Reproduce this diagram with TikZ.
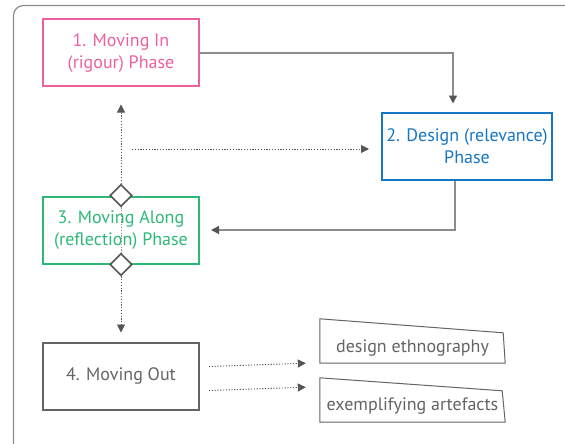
\documentclass[tikz,border=0pt]{standalone}
\usepackage{fontspec}
\setmainfont{PT Sans}
\usepackage{xcolor}
\usetikzlibrary{arrows.meta,positioning,shapes.geometric}
\definecolor{rigourpink}{RGB}{236,96,160}
\definecolor{relevblue}{RGB}{22,118,196}
\definecolor{reflgreen}{RGB}{46,184,120}
\definecolor{outgray}{RGB}{100,100,100}
\definecolor{linkgray}{RGB}{140,140,140}
\definecolor{tipgray}{RGB}{85,85,85}
\newcommand{\phasefont}{\fontsize{18}{22}\selectfont}
\begin{document}
\begin{tikzpicture}[x=1pt,y=-1pt,
        phase/.style={rectangle,draw,line width=2pt,minimum width=156pt,minimum height=67pt,
          inner sep=1pt,align=center,font=\phasefont},
        outbox/.style={rectangle,minimum width=185pt,inner sep=0pt,text=outgray,font=\phasefont},
        outline/.style={draw=outgray,line width=1pt},
        gate/.style={diamond,draw=tipgray,fill=white,line width=1.6pt,minimum width=22pt,
          minimum height=22pt,inner sep=0pt},
        link/.style={draw=linkgray,line width=1.4pt,-{Triangle[length=8pt,width=8pt,color=tipgray]}},
        dotlink/.style={draw=tipgray,line width=0.9pt,dash pattern=on 1.2pt off 1.6pt,
          -{Triangle[length=8pt,width=8pt]}},
        dotline/.style={draw=linkgray,line width=0.9pt,dash pattern=on 1.2pt off 1.6pt}]
  \useasboundingbox (0,0) rectangle (565,444);
  \clip (0,0) rectangle (565,444);
  \draw[linkgray,line width=1.2pt,rounded corners=10pt] (13.5,5.5) rectangle (620,490);
  \node[phase,draw=rigourpink,text=rigourpink] (p1) at (121,53) {1. Moving In\\(rigour) Phase};
  \node[phase,draw=relevblue,text=relevblue,minimum width=170pt,below right=24pt and 181pt of p1] (p2)
    {2. Design (relevance)\\Phase};
  \node[phase,draw=reflgreen,text=reflgreen,below=108pt of p1] (p3) {3. Moving Along\\(reflection) Phase};
  \node[phase,draw=outgray,text=outgray,below=77pt of p3] (p4) {4. Moving Out};
  \node[outbox,minimum height=30pt] (o1) at (412.5,348) {design ethnography};
  \node[outbox,minimum height=31pt] (o2) at (412.5,406.5) {exemplifying artefacts};
  \draw[outline] (o1.south west) -- (o1.south east) -- ([xshift=-2pt]o1.north east)
    -- ([yshift=14pt]o1.north west) -- cycle;
  \draw[outline] (o2.south west) -- (o2.south east) -- ([xshift=-3pt]o2.north east)
    -- ([yshift=13pt]o2.north west) -- cycle;
  \node[gate] (g1) at (p3.north) {};
  \node[gate] (g2) at (p3.south) {};
  \coordinate (split) at (132,149);
  \draw[link] (p1.east) -| ([xshift=-14pt,yshift=8pt]p2.north);
  \draw[link] ([xshift=-12pt]p2.south) |- ([xshift=11pt]p3.east);
  \draw[dotlink] (g1.north) -- ([yshift=-17pt]p1.south);
  \draw[dotlink,shorten >=12pt] (split) -- (split -| p2.west);
  \draw[dotline] (g1.south) -- (g2.north);
  \draw[dotlink] (g2.south) -- ([yshift=9pt]p4.north);
  \draw[dotlink] ([xshift=9pt,yshift=9.5pt]p4.east) -- ([xshift=-14pt]o1.south west);
  \draw[dotlink] ([xshift=9pt,yshift=-14.5pt]p4.east) -- ([xshift=-14pt,yshift=35pt]o2.south west);
\end{tikzpicture}
\end{document}
